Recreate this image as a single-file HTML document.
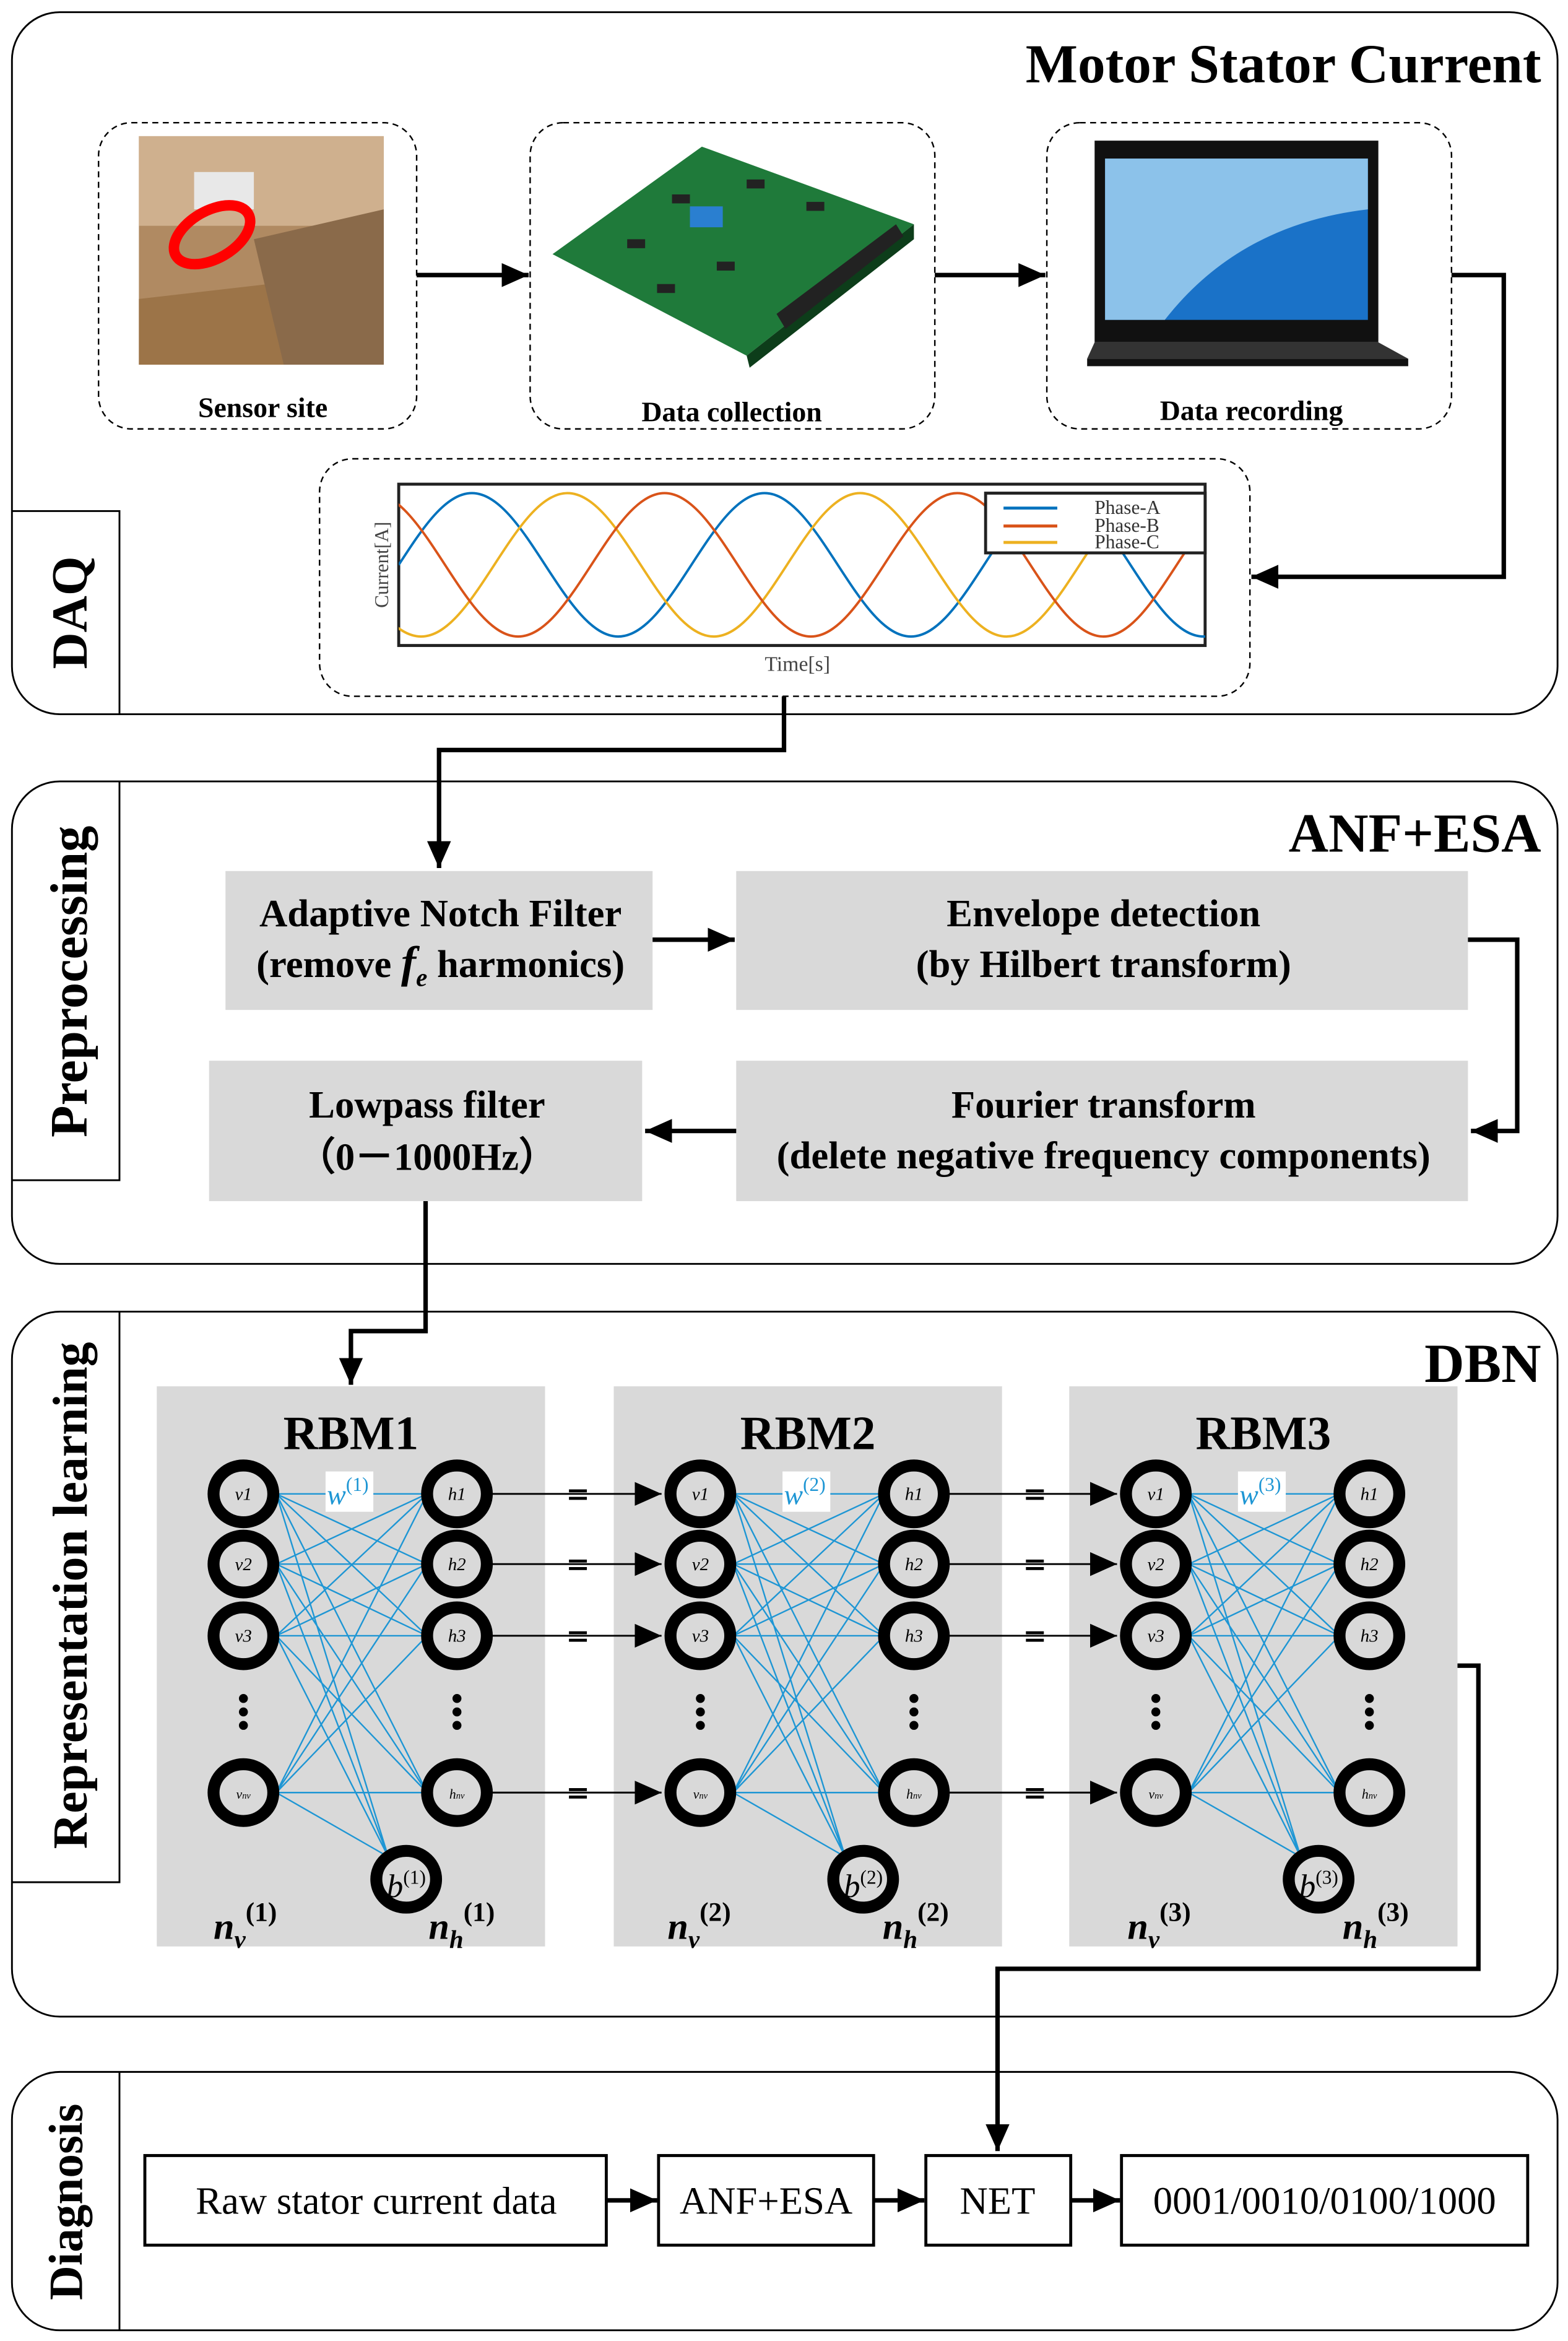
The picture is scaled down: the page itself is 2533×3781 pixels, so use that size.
<!DOCTYPE html>
<html><head><meta charset="utf-8"><style>html,body{margin:0;padding:0;background:#fff}svg{display:block}</style></head>
<body>
<svg xmlns="http://www.w3.org/2000/svg" width="2533" height="3781" viewBox="0 0 1050 1567" font-family="'Liberation Serif', serif">
<defs>
<marker id="ar2" markerWidth="20" markerHeight="20" refX="18" refY="8" orient="auto" markerUnits="userSpaceOnUse"><path d="M0,0 L18,8 L0,16 z" fill="#000"/></marker>
<clipPath id="pc"><rect x="267" y="324" width="540" height="108"/></clipPath>
<g id="rbm">
<rect x="0" y="928" width="260" height="375" fill="#d9d9d9"/>
<g stroke="#1e96d4" stroke-width="1" fill="none">
<path d="M80,1000 L181,1000 M80,1000 L181,1047 M80,1000 L181,1095 M80,1000 L181,1200
M80,1047 L181,1000 M80,1047 L181,1047 M80,1047 L181,1095 M80,1047 L181,1200
M80,1095 L181,1000 M80,1095 L181,1047 M80,1095 L181,1095 M80,1095 L181,1200
M80,1200 L181,1000 M80,1200 L181,1047 M80,1200 L181,1095 M80,1200 L181,1200
M80,1000 L155,1243 M80,1047 L155,1243 M80,1095 L155,1243 M80,1200 L155,1243"/>
</g>
<g fill="none" stroke="#000" stroke-width="8">
<ellipse cx="58" cy="1000" rx="20" ry="19"/><ellipse cx="58" cy="1047" rx="20" ry="19"/><ellipse cx="58" cy="1095" rx="20" ry="19"/><ellipse cx="58" cy="1200" rx="20" ry="19"/>
<ellipse cx="201" cy="1000" rx="20" ry="19"/><ellipse cx="201" cy="1047" rx="20" ry="19"/><ellipse cx="201" cy="1095" rx="20" ry="19"/><ellipse cx="201" cy="1200" rx="20" ry="19"/>
<ellipse cx="167" cy="1258" rx="20" ry="19"/>
</g>
<g fill="#000"><circle cx="58" cy="1137" r="3"/><circle cx="58" cy="1146" r="3"/><circle cx="58" cy="1155" r="3"/>
<circle cx="201" cy="1137" r="3"/><circle cx="201" cy="1146" r="3"/><circle cx="201" cy="1155" r="3"/></g>
<g font-style="italic" font-size="12" text-anchor="middle">
<text x="58" y="1004">v1</text><text x="58" y="1051">v2</text><text x="58" y="1099">v3</text><text x="58" y="1204" font-size="9">v<tspan font-size="6">nv</tspan></text>
<text x="201" y="1004">h1</text><text x="201" y="1051">h2</text><text x="201" y="1099">h3</text><text x="201" y="1204" font-size="9">h<tspan font-size="6">nv</tspan></text>
</g>
<rect x="113" y="985" width="32" height="27" fill="#fff"/>
</g>
</defs>

<rect x="8" y="8" width="1035" height="470" rx="32" fill="none" stroke="#000" stroke-width="1.2"/>
<path d="M8,342 H80 V478" fill="none" stroke="#000" stroke-width="1.2"/>
<text x="1032" y="55" font-size="37" font-weight="bold" text-anchor="end">Motor Stator Current</text>
<text transform="translate(58,410) rotate(-90)" font-size="34" font-weight="bold" text-anchor="middle">DAQ</text>
<g fill="none" stroke="#000" stroke-width="1" stroke-dasharray="4,3">
<rect x="66" y="82" width="213" height="205" rx="22"/>
<rect x="355" y="82" width="271" height="205" rx="22"/>
<rect x="701" y="82" width="271" height="205" rx="22"/>
<rect x="214" y="307" width="623" height="159" rx="22"/>
</g>
<rect x="93" y="91" width="164" height="153" fill="#b08a62"/>
<rect x="93" y="91" width="164" height="60" fill="#cfb08e"/>
<path d="M93,200 L180,190 L257,210 L257,244 L93,244z" fill="#9c7448"/>
<path d="M170,160 L257,140 L257,244 L190,244z" fill="#8a6a4a"/>
<rect x="130" y="115" width="40" height="25" fill="#e8e8e8"/>
<ellipse cx="142" cy="157" rx="28" ry="16" transform="rotate(-30 142 157)" fill="none" stroke="#f00" stroke-width="7"/>
<text x="176" y="279" font-size="19" font-weight="bold" text-anchor="middle">Sensor site</text>
<path d="M370,170 L470,98 L612,150 L500,238 z" fill="#1f7a3a"/>
<path d="M500,238 L612,150 L612,160 L502,246 z" fill="#0d3d1a"/>
<rect x="462" y="138" width="22" height="14" fill="#2a7fd0"/>
<path d="M520,210 L600,150 L605,158 L526,220z" fill="#222"/>
<g fill="#222"><rect x="420" y="160" width="12" height="6"/><rect x="450" y="130" width="12" height="6"/><rect x="500" y="120" width="12" height="6"/><rect x="540" y="135" width="12" height="6"/><rect x="440" y="190" width="12" height="6"/><rect x="480" y="175" width="12" height="6"/></g>
<text x="490" y="282" font-size="19" font-weight="bold" text-anchor="middle">Data collection</text>
<rect x="733" y="94" width="190" height="135" fill="#111"/>
<rect x="740" y="106" width="176" height="108" fill="#1a72c8"/>
<path d="M740,106 H916 V140 Q830,150 780,214 H740z" fill="#8cc2ea"/>
<path d="M733,229 H923 L943,240 H728z" fill="#333"/>
<rect x="728" y="240" width="215" height="5" fill="#111"/>
<text x="838" y="281" font-size="19" font-weight="bold" text-anchor="middle">Data recording</text>
<rect x="267" y="324" width="540" height="108" fill="#fff" stroke="#222" stroke-width="2"/>
<g clip-path="url(#pc)" fill="none" stroke-width="1.6">
<path stroke="#0072bd" d="M267,378 c16,-24.6 31.3,-48 49,-48 c17.7,0 33,23.4 49,48 c16,24.6 31.3,48 49,48 c17.7,0 33,-23.4 49,-48 c16,-24.6 31.3,-48 49,-48 c17.7,0 33,23.4 49,48 c16,24.6 31.3,48 49,48 c17.7,0 33,-23.4 49,-48 c16,-24.6 31.3,-48 49,-48 c17.7,0 33,23.4 49,48 c16,24.6 31.3,48 49,48 c17.7,0 33,-23.4 49,-48"/>
<path stroke="#edb120" d="M135,378 c16,-24.6 31.3,-48 49,-48 c17.7,0 33,23.4 49,48 c16,24.6 31.3,48 49,48 c17.7,0 33,-23.4 49,-48 c16,-24.6 31.3,-48 49,-48 c17.7,0 33,23.4 49,48 c16,24.6 31.3,48 49,48 c17.7,0 33,-23.4 49,-48 c16,-24.6 31.3,-48 49,-48 c17.7,0 33,23.4 49,48 c16,24.6 31.3,48 49,48 c17.7,0 33,-23.4 49,-48 c16,-24.6 31.3,-48 49,-48 c17.7,0 33,23.4 49,48 c16,24.6 31.3,48 49,48 c17.7,0 33,-23.4 49,-48"/>
<path stroke="#d95319" d="M200,378 c16,-24.6 31.3,-48 49,-48 c17.7,0 33,23.4 49,48 c16,24.6 31.3,48 49,48 c17.7,0 33,-23.4 49,-48 c16,-24.6 31.3,-48 49,-48 c17.7,0 33,23.4 49,48 c16,24.6 31.3,48 49,48 c17.7,0 33,-23.4 49,-48 c16,-24.6 31.3,-48 49,-48 c17.7,0 33,23.4 49,48 c16,24.6 31.3,48 49,48 c17.7,0 33,-23.4 49,-48 c16,-24.6 31.3,-48 49,-48 c17.7,0 33,23.4 49,48 c16,24.6 31.3,48 49,48 c17.7,0 33,-23.4 49,-48"/>
</g>
<rect x="660" y="330" width="147" height="40" fill="#fff" stroke="#222" stroke-width="2"/>
<g stroke-width="2"><line x1="672" y1="340" x2="708" y2="340" stroke="#0072bd"/><line x1="672" y1="352" x2="708" y2="352" stroke="#d95319"/><line x1="672" y1="363" x2="708" y2="363" stroke="#edb120"/></g>
<g font-size="13" fill="#333"><text x="733" y="344">Phase-A</text><text x="733" y="356">Phase-B</text><text x="733" y="367">Phase-C</text></g>
<text transform="translate(260,378) rotate(-90)" font-size="13" fill="#444" text-anchor="middle">Current[A]</text>
<text x="534" y="449" font-size="14" fill="#444" text-anchor="middle">Time[s]</text>
<g stroke="#000" stroke-width="3" fill="none">
<line x1="279" y1="184" x2="354" y2="184" marker-end="url(#ar2)"/>
<line x1="626" y1="184" x2="700" y2="184" marker-end="url(#ar2)"/>
<polyline points="972,184 1007,184 1007,386 838,386" marker-end="url(#ar2)"/>
<polyline points="525,466 525,502 294,502 294,581" marker-end="url(#ar2)"/>
</g>

<rect x="8" y="523" width="1035" height="323" rx="32" fill="none" stroke="#000" stroke-width="1.2"/>
<path d="M8,790 H80 V523" fill="none" stroke="#000" stroke-width="1.2"/>
<text x="1032" y="570" font-size="37" font-weight="bold" text-anchor="end">ANF+ESA</text>
<text transform="translate(58,657) rotate(-90)" font-size="35" font-weight="bold" text-anchor="middle">Preprocessing</text>
<g fill="#d9d9d9"><rect x="151" y="583" width="286" height="93"/><rect x="493" y="583" width="490" height="93"/><rect x="140" y="710" width="290" height="94"/><rect x="493" y="710" width="490" height="94"/></g>
<g font-size="26" font-weight="bold" text-anchor="middle">
<text x="295" y="620">Adaptive Notch Filter</text>
<text x="295" y="654">(remove <tspan font-style="italic" font-size="30">f</tspan><tspan font-style="italic" font-size="17" dy="6">e</tspan><tspan dy="-6"> harmonics)</tspan></text>
<text x="739" y="620">Envelope detection</text>
<text x="739" y="654">(by Hilbert transform)</text>
<text x="286" y="748">Lowpass filter</text>
<text x="286" y="783">（0－1000Hz）</text>
<text x="739" y="748">Fourier transform</text>
<text x="739" y="782">(delete negative frequency components)</text>
</g>
<g stroke="#000" stroke-width="3" fill="none">
<line x1="437" y1="629" x2="492" y2="629" marker-end="url(#ar2)"/>
<polyline points="983,629 1016,629 1016,757 985,757" marker-end="url(#ar2)"/>
<line x1="493" y1="757" x2="432" y2="757" marker-end="url(#ar2)"/>
<polyline points="285,804 285,891 235,891 235,927" marker-end="url(#ar2)"/>
</g>

<rect x="8" y="878" width="1035" height="472" rx="32" fill="none" stroke="#000" stroke-width="1.2"/>
<path d="M8,1260 H80 V878" fill="none" stroke="#000" stroke-width="1.2"/>
<text x="1032" y="925" font-size="37" font-weight="bold" text-anchor="end">DBN</text>
<text transform="translate(58,1068) rotate(-90)" font-size="33" font-weight="bold" text-anchor="middle">Representation learning</text>
<use href="#rbm" transform="translate(105,0)"/>
<use href="#rbm" transform="translate(411,0)"/>
<use href="#rbm" transform="translate(716,0)"/>
<g font-size="32" font-weight="bold" text-anchor="middle"><text x="235" y="970">RBM1</text><text x="541" y="970">RBM2</text><text x="846" y="970">RBM3</text></g>
<g fill="#1e96d4" font-style="italic" font-size="19"><text x="219" y="1007">w<tspan font-style="normal" font-size="13" dy="-9">(1)</tspan></text><text x="525" y="1007">w<tspan font-style="normal" font-size="13" dy="-9">(2)</tspan></text><text x="830" y="1007">w<tspan font-style="normal" font-size="13" dy="-9">(3)</tspan></text></g>
<g font-style="italic" font-size="22"><text x="259" y="1270">b<tspan font-style="normal" font-size="13" dy="-9">(1)</tspan></text><text x="565" y="1270">b<tspan font-style="normal" font-size="13" dy="-9">(2)</tspan></text><text x="870" y="1270">b<tspan font-style="normal" font-size="13" dy="-9">(3)</tspan></text></g>
<g font-weight="bold" font-size="25">
<text x="143" y="1298" font-style="italic">n<tspan font-size="17" dy="6">v</tspan><tspan font-style="normal" font-size="18" dy="-18">(1)</tspan></text>
<text x="287" y="1298" font-style="italic">n<tspan font-size="17" dy="6">h</tspan><tspan font-style="normal" font-size="18" dy="-18">(1)</tspan></text>
<text x="447" y="1298" font-style="italic">n<tspan font-size="17" dy="6">v</tspan><tspan font-style="normal" font-size="18" dy="-18">(2)</tspan></text>
<text x="591" y="1298" font-style="italic">n<tspan font-size="17" dy="6">h</tspan><tspan font-style="normal" font-size="18" dy="-18">(2)</tspan></text>
<text x="755" y="1298" font-style="italic">n<tspan font-size="17" dy="6">v</tspan><tspan font-style="normal" font-size="18" dy="-18">(3)</tspan></text>
<text x="899" y="1298" font-style="italic">n<tspan font-size="17" dy="6">h</tspan><tspan font-style="normal" font-size="18" dy="-18">(3)</tspan></text>
</g>
<g stroke="#000" stroke-width="1.2" fill="none">
<line x1="329" y1="1000" x2="443" y2="1000" marker-end="url(#ar2)"/><line x1="329" y1="1047" x2="443" y2="1047" marker-end="url(#ar2)"/><line x1="329" y1="1095" x2="443" y2="1095" marker-end="url(#ar2)"/><line x1="329" y1="1200" x2="443" y2="1200" marker-end="url(#ar2)"/>
<line x1="635" y1="1000" x2="748" y2="1000" marker-end="url(#ar2)"/><line x1="635" y1="1047" x2="748" y2="1047" marker-end="url(#ar2)"/><line x1="635" y1="1095" x2="748" y2="1095" marker-end="url(#ar2)"/><line x1="635" y1="1200" x2="748" y2="1200" marker-end="url(#ar2)"/>
</g>
<g fill="#000"><g id="eqs"><rect x="381" y="997" width="12" height="2"/><rect x="381" y="1002" width="12" height="2"/><rect x="381" y="1044" width="12" height="2"/><rect x="381" y="1049" width="12" height="2"/><rect x="381" y="1092" width="12" height="2"/><rect x="381" y="1097" width="12" height="2"/><rect x="381" y="1197" width="12" height="2"/><rect x="381" y="1202" width="12" height="2"/></g>
<use href="#eqs" transform="translate(306,0)"/></g>
<polyline points="976,1115 990,1115 990,1318 668,1318 668,1440" stroke="#000" stroke-width="3" fill="none" marker-end="url(#ar2)"/>

<rect x="8" y="1387" width="1035" height="173" rx="32" fill="none" stroke="#000" stroke-width="1.2"/>
<path d="M80,1387 V1560" fill="none" stroke="#000" stroke-width="1.2"/>
<text transform="translate(55,1474) rotate(-90)" font-size="32" font-weight="bold" text-anchor="middle">Diagnosis</text>
<g fill="#fff" stroke="#000" stroke-width="2"><rect x="97" y="1443" width="309" height="60"/><rect x="441" y="1443" width="144" height="60"/><rect x="620" y="1443" width="97" height="60"/><rect x="751" y="1443" width="272" height="60"/></g>
<g font-size="26" text-anchor="middle"><text x="252" y="1482">Raw stator current data</text><text x="513" y="1482">ANF+ESA</text><text x="668" y="1482">NET</text><text x="887" y="1482">0001/0010/0100/1000</text></g>
<g stroke="#000" stroke-width="3"><line x1="406" y1="1473" x2="440" y2="1473" marker-end="url(#ar2)"/><line x1="585" y1="1473" x2="619" y2="1473" marker-end="url(#ar2)"/><line x1="717" y1="1473" x2="750" y2="1473" marker-end="url(#ar2)"/></g>
</svg>
</body></html>
